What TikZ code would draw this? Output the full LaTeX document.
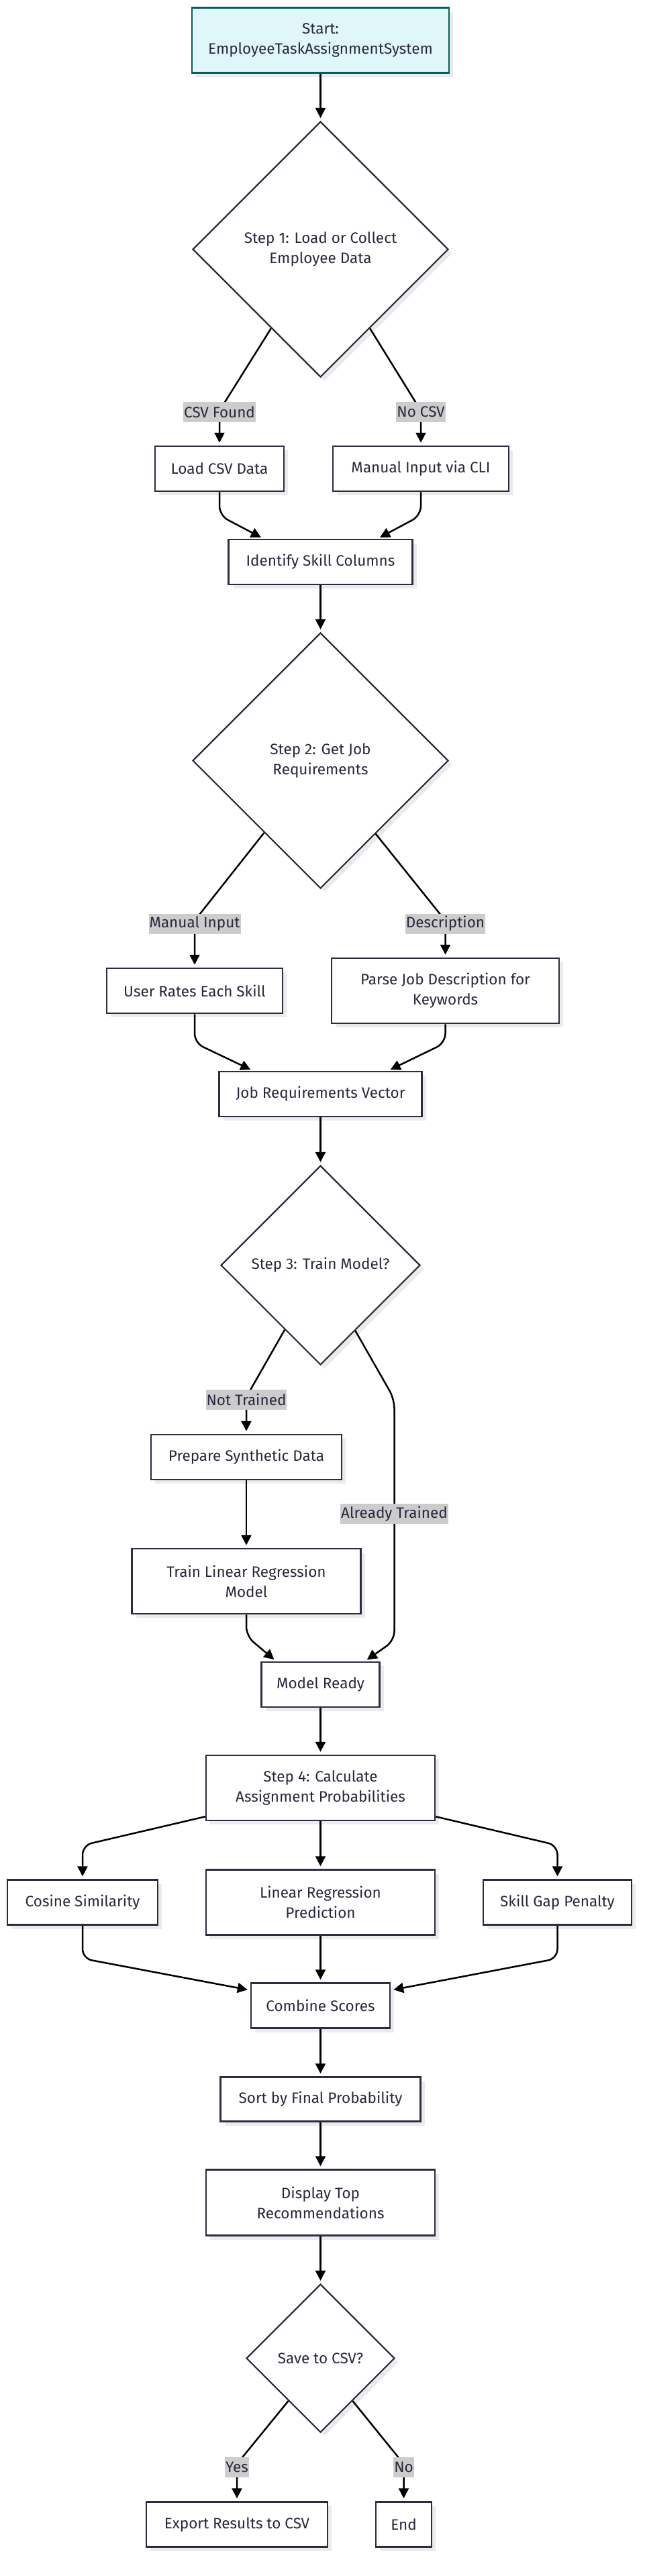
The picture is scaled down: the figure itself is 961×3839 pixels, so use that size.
\documentclass[tikz,border=0pt]{standalone}
\usepackage{fontspec}
\setmainfont{Fira Sans}
\usetikzlibrary{shapes.geometric,arrows.meta,shadows}

\definecolor{boxline}{RGB}{44,44,64}
\definecolor{boxtext}{RGB}{40,40,60}
\definecolor{startfill}{RGB}{224,247,250}
\definecolor{startline}{RGB}{0,96,92}
\definecolor{lblgray}{RGB}{204,204,204}

\tikzset{
  box/.style={draw=boxline, line width=2.5pt, fill=white, text=boxtext, align=center,
    inner sep=0pt, minimum height=67pt, font=\fontsize{22.5}{30}\selectfont,
    drop shadow={shadow xshift=6pt, shadow yshift=-6pt, fill=black!8, opacity=1}},
  startbox/.style={box, fill=startfill, draw=startline},
  decide/.style={box, diamond, line width=2.2pt},
  lbl/.style={fill=lblgray, text=boxtext, inner xsep=1pt, inner ysep=0pt,
    minimum height=30pt, font=\fontsize{22.5}{30}\selectfont},
  arr/.style={line width=2.5pt, -{Triangle[length=15pt,width=15pt]},
    shorten >=4pt, rounded corners=14pt},
}

\begin{document}
\begin{tikzpicture}[x=1pt, y=-1pt]
\useasboundingbox (0,0) rectangle (961,3839);

% start and step 1
\node[startbox, minimum width=383pt, minimum height=97pt] (start) at (477.5,60) {Start:\\EmployeeTaskAssignmentSystem};
\node[decide, minimum size=381pt] (load) at (477.5,371.5) {Step 1: Load or Collect\\Employee Data};
\node[box, minimum width=192pt] (csv) at (327,698.5) {Load CSV Data};
\node[box, minimum width=262pt] (cli) at (627,698.5) {Manual Input via CLI};
\node[box, minimum width=274pt] (skills) at (477.5,837.5) {Identify Skill Columns};

\draw[arr] (start) -- (load);
\draw[arr] (load.238) -- (327,612) -- (csv);
\draw[arr] (load.302) -- (627,612) -- (cli);
\draw[arr] (csv.south) -- ++(0,35) -- ([xshift=-85pt]skills.north);
\draw[arr] (cli.south) -- ++(0,35) -- ([xshift=85pt]skills.north);
\node[lbl] (csvfound) at (327,614) {CSV Found};
\node[lbl] (nocsv) at (627,614) {No CSV};

% step 2
\node[decide, minimum size=381pt] (job) at (477.5,1133.5) {Step 2: Get Job\\Requirements};
\node[box, minimum width=262pt] (rates) at (290,1476.5) {User Rates Each Skill};
\node[box, minimum width=339pt, minimum height=97pt] (parse) at (663.5,1476.5) {Parse Job Description for\\Keywords};
\node[box, minimum width=302pt] (jobvec) at (477.5,1630.5) {Job Requirements Vector};

\draw[arr] (skills) -- (job);
\draw[arr] (job.232) -- (290,1372) -- (rates);
\draw[arr] (job.307.5) -- (663.5,1372) -- (parse);
\draw[arr] (rates.south) -- ++(0,43) -- ([xshift=-100.5pt]jobvec.north);
\draw[arr] (parse.south) -- ++(0,28) -- ([xshift=100.5pt]jobvec.north);
\node[lbl] (manin) at (290,1376.5) {Manual Input};
\node[lbl] (descr) at (663.5,1376.5) {Description};

% step 3
\node[decide, minimum size=297pt] (model) at (477.5,1885.5) {Step 3: Train Model?};
\node[box, minimum width=284pt] (prep) at (367,2171.5) {Prepare Synthetic Data};
\node[box, minimum width=341pt, minimum height=97pt] (train) at (367,2356.5) {Train Linear Regression\\Model};
\node[box, minimum width=176pt] (ready) at (477.5,2510.5) {Model Ready};

\draw[arr] (jobvec) -- (model);
\draw[arr] (model.241) -- (367,2082) -- (prep);
\draw[arr] (prep) -- (train);
\draw[arr] (model.298.6) -- (587.5,2085) -- (587.5,2445) -- ([xshift=66pt]ready.north);
\draw[arr] (train.south) -- ++(0,32) -- ([xshift=-66pt]ready.north);
\node[lbl] (nottrained) at (367,2086) {Not Trained};
\node[lbl] (trained) at (587.5,2256) {Already Trained};

% step 4
\node[box, minimum width=341pt, minimum height=97pt] (calc) at (477.5,2664.5) {Step 4: Calculate\\Assignment Probabilities};
\node[box, minimum width=224pt] (cosine) at (123,2835) {Cosine Similarity};
\node[box, minimum width=341pt, minimum height=97pt] (linreg) at (477.5,2835) {Linear Regression\\Prediction};
\node[box, minimum width=221pt] (gap) at (830.5,2835) {Skill Gap Penalty};
\node[box, minimum width=207pt] (combine) at (477.5,2989) {Combine Scores};

\draw[arr] (ready) -- (calc);
\draw[arr] ([yshift=7pt]calc.south west) -- (123,2750) -- (cosine);
\draw[arr] (calc) -- (linreg);
\draw[arr] ([yshift=7pt]calc.south east) -- (830.5,2750) -- (gap);
\draw[arr] (cosine.south) -- ++(0,49) -- ([yshift=23pt]combine.west);
\draw[arr] (linreg) -- (combine);
\draw[arr] (gap.south) -- ++(0,49) -- ([yshift=23pt]combine.east);

% output
\node[box, minimum width=298pt, minimum height=66pt] (sort) at (477.5,3128.5) {Sort by Final Probability};
\node[box, minimum width=341pt, minimum height=98pt] (show) at (477.5,3282.5) {Display Top\\Recommendations};
\node[decide, minimum size=221pt] (save) at (477.5,3514.5) {Save to CSV?};
\node[box, minimum width=270pt] (export) at (353,3762) {Export Results to CSV};
\node[box, minimum width=83pt] (end) at (601.5,3762) {End};

\draw[arr] (combine) -- (sort);
\draw[arr] (sort) -- (show);
\draw[arr] (show) -- (save);
\draw[arr] (save.233) -- (353,3672) -- (export);
\draw[arr] (save.307) -- (601.5,3672) -- (end);
\node[lbl] (yes) at (353,3677) {Yes};
\node[lbl] (no) at (601.5,3677) {No};

\end{tikzpicture}
\end{document}
